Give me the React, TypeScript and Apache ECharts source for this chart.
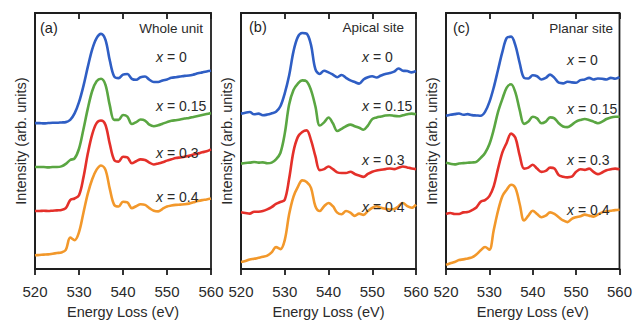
import React, { useEffect, useRef } from "react";
import * as echarts from "echarts";

const energy = [
  520, 521, 522, 523, 524, 525, 526, 527, 528, 529, 530, 531, 532, 533, 534, 535, 536, 537, 538, 539, 540,
  541, 542, 543, 544, 545, 546, 547, 548, 549, 550, 551, 552, 553, 554, 555, 556, 557, 558, 559, 560,
];
const xTicks = [520, 530, 540, 550, 560];
const compositions = ["0", "0.15", "0.3", "0.4"];
const panelTags = ["(a)", "(b)", "(c)"];
const panelTitles = ["Whole unit", "Apical site", "Planar site"];

// Panel (a) Whole unit
const aX0 = [45.5,45.5,45.4,45.5,45.6,45.6,45.7,45.8,46.5,48.5,52.0, 57.0,63.0,68.5,72.0,73.3,71.5,65.0,60.0,59.5,60.6, 60.8,59.3,59.0,59.8,60.0,59.0,58.3,58.3,58.8,59.1, 59.6,59.8,60.0,60.2,60.3,60.6,61.0,61.3,61.6,61.8];
const aX015 = [31.8,31.8,31.8,31.7,31.8,31.8,32.0,32.8,34.0,34.5,37.5, 43.5,50.0,55.5,58.5,59.3,57.5,51.0,46.5,46.5,48.0, 47.5,45.2,45.8,46.6,46.3,45.0,44.5,44.8,45.3,45.8, 46.2,46.4,46.6,46.9,47.1,47.4,47.7,48.0,48.3,48.6];
const aX03 = [18.1,18.1,18.2,18.1,18.2,18.3,18.4,19.0,21.5,22.0,23.0, 28.5,36.0,42.0,45.5,46.3,45.0,39.0,34.0,33.5,35.0, 34.8,33.0,33.6,34.2,34.0,33.2,32.6,32.9,33.3,33.8, 34.2,34.6,34.8,35.0,35.3,35.7,36.0,36.4,36.7,37.3];
const aX04 = [4.3,4.4,4.5,4.6,4.8,5.0,5.2,6.0,9.8,9.0,11.5, 17.5,23.5,28.0,31.0,32.3,31.0,25.0,20.0,19.5,21.0, 20.8,19.0,19.6,20.2,20.0,19.0,18.2,18.0,18.8,19.5, 19.8,20.0,20.1,20.2,20.4,20.8,21.2,21.5,21.7,22.0];

// Panel (b) Apical site
const bX0 = [48.2,48.5,48.7,48.0,48.2,47.7,47.9,48.3,48.8,50.5,54.5, 60.0,67.5,72.0,73.2,73.0,69.5,62.0,60.5,61.5,61.0, 60.3,59.5,60.2,59.3,58.5,58.0,57.5,58.8,59.5,59.8, 59.4,60.0,60.5,60.8,61.2,62.2,61.5,61.4,61.0,61.4];
const bX015 = [32.7,32.9,33.0,33.2,33.0,33.1,32.8,33.0,34.0,36.0,42.0, 51.0,55.5,57.5,58.5,58.2,55.5,50.5,44.5,45.5,47.0, 45.2,42.8,43.5,44.3,44.8,44.3,43.8,43.2,44.5,46.5, 47.0,47.3,47.6,47.7,47.5,47.4,47.7,48.0,48.2,48.0];
const bX03 = [17.6,17.4,17.2,17.8,17.8,18.0,18.5,19.2,20.2,20.8,21.5, 28.0,36.5,41.0,42.5,43.0,40.0,35.0,30.7,31.0,31.8, 31.0,30.0,29.8,29.8,30.2,29.5,29.0,28.6,29.5,30.2, 30.6,30.8,31.0,31.2,31.0,31.4,31.8,31.5,31.2,31.0];
const bX04 = [2.2,2.5,3.0,3.2,3.5,3.8,4.2,5.2,6.8,6.2,9.0, 17.0,22.5,25.5,27.5,27.0,25.2,19.5,18.0,19.5,20.5, 19.5,17.5,17.0,18.0,17.5,16.5,17.2,16.8,18.0,19.0, 19.5,19.0,18.7,18.5,18.6,19.5,20.5,19.5,19.0,20.0];

// Panel (c) Planar site
const cX0 = [47.3,47.6,47.8,48.0,47.6,47.8,47.5,47.4,47.3,48.5,51.5, 56.0,61.5,67.0,71.3,71.7,69.0,63.5,59.0,58.8,59.8, 59.5,58.5,59.0,60.0,59.0,57.5,57.3,57.8,57.6,57.5, 58.3,58.5,59.0,58.5,58.8,58.7,58.5,59.0,58.7,59.2];
const cX015 = [32.8,32.5,32.3,32.6,32.7,32.8,32.9,33.1,34.3,35.8,38.5, 43.0,48.5,52.5,56.0,57.0,54.5,49.0,44.8,45.5,47.0, 46.5,45.0,45.5,46.8,46.5,45.0,44.0,43.8,44.5,45.5, 46.0,46.3,46.0,45.5,45.0,45.5,46.3,46.8,47.0,47.0];
const cX03 = [17.0,17.3,17.0,17.0,17.5,17.6,18.2,19.0,20.8,21.3,22.5, 25.5,31.0,36.0,39.0,41.8,40.5,35.0,31.0,31.3,32.2, 31.0,30.0,30.3,31.3,31.0,29.0,28.5,28.3,28.5,30.0, 30.8,30.6,31.0,30.0,29.3,29.8,30.5,30.8,31.0,30.8];
const cX04 = [1.3,1.8,2.2,2.8,3.0,3.3,3.6,4.5,5.8,6.8,6.0, 12.0,18.0,22.5,24.5,26.0,25.0,20.0,15.0,16.5,18.0, 17.0,16.0,16.5,17.5,17.0,16.0,15.0,14.5,15.5,16.0, 16.3,16.8,16.5,16.2,16.8,17.5,17.8,18.0,18.2,18.3];

const panelData = [
  [aX0, aX015, aX03, aX04],
  [bX0, bX015, bX03, bX04],
  [cX0, cX015, cX03, cX04],
];
const yMax = [79.8, 79.4, 79.0];

const colors = ["#2f5ec4", "#5aa642", "#e4302a", "#f2982b"];
const FONT = "'Liberation Sans', Arial, sans-serif";
const AXIS = "#1e1e1e";

const grids = [
  { left: 35, top: 13, width: 176, height: 266 },
  { left: 241, top: 13, width: 175, height: 264 },
  { left: 446, top: 13, width: 176, height: 263 },
];
const labelLayout = [
  { tagX: 40, titleRight: 203, y0: 28, lx: 156, ly: [57, 106, 153, 197] },
  { tagX: 249, titleRight: 404, y0: 27, lx: 362, ly: [57, 106, 160, 207] },
  { tagX: 453, titleRight: 613, y0: 28, lx: 567, ly: [60, 109, 160, 210] },
];

export default function App() {
  const ref = useRef<HTMLDivElement>(null);
  useEffect(() => {
    if (!ref.current) return;
    const chart = echarts.init(ref.current, undefined, { renderer: "svg" });
    const grid: any[] = [];
    const xAxis: any[] = [];
    const yAxis: any[] = [];
    const series: any[] = [];
    const graphic: any[] = [];
    grids.forEach((g, i) => {
      grid.push({ ...g, show: true, borderColor: AXIS, borderWidth: 1.8, backgroundColor: "transparent" });
      xAxis.push({
        gridIndex: i,
        type: "value",
        min: 520,
        max: 560,
        interval: 10,
        axisLine: { lineStyle: { color: AXIS, width: 1.8 } },
        axisTick: { show: true, inside: false, length: 6, lineStyle: { color: AXIS, width: 1.8 } },
        axisLabel: {
          fontSize: 15,
          color: "#2a2a2a",
          fontFamily: FONT,
          margin: 15,
          formatter: (v: number) => (xTicks.includes(v) ? String(v) : ""),
        },
        splitLine: { show: false },
        name: "Energy Loss (eV)",
        nameLocation: "middle",
        nameGap: 27,
        nameTextStyle: { fontSize: 14.5, color: "#2a2a2a", fontFamily: FONT },
      });
      xAxis.push({
        gridIndex: i,
        type: "value",
        min: 520,
        max: 560,
        interval: 10,
        axisLine: { show: false },
        axisTick: { show: true, inside: true, length: 6, lineStyle: { color: AXIS, width: 1.8 } },
        axisLabel: { show: false },
        splitLine: { show: false },
      });
      yAxis.push({
        gridIndex: i,
        type: "value",
        min: 0,
        max: yMax[i],
        axisLine: { show: true, lineStyle: { color: AXIS, width: 1.8 } },
        axisTick: { show: false },
        axisLabel: { show: false },
        splitLine: { show: false },
        name: "Intensity (arb. units)",
        nameLocation: "middle",
        nameRotate: 90,
        nameGap: 7,
        nameTextStyle: { fontSize: 14.5, color: "#2a2a2a", fontFamily: FONT },
      });
      panelData[i].forEach((vals, k) => {
        series.push({
          type: "line",
          name: `${panelTitles[i]} x = ${compositions[k]}`,
          xAxisIndex: 2 * i,
          yAxisIndex: i,
          data: energy.map((e, j) => [e, vals[j]]),
          showSymbol: false,
          smooth: 0.35,
          lineStyle: { color: colors[k], width: 2.6 },
          itemStyle: { color: colors[k] },
          z: 3,
        });
      });
      const L = labelLayout[i];
      graphic.push({
        type: "text",
        x: L.tagX,
        y: L.y0,
        style: { text: panelTags[i], fill: "#1e1e1e", font: `14.5px ${FONT}`, verticalAlign: "middle", align: "left" },
      });
      graphic.push({
        type: "text",
        x: L.titleRight,
        y: L.y0,
        style: { text: panelTitles[i], fill: "#2a2a2a", font: `13.5px ${FONT}`, verticalAlign: "middle", align: "right" },
      });
      compositions.forEach((c, k) => {
        graphic.push({
          type: "text",
          x: L.lx,
          y: L.ly[k],
          z: 10,
          style: {
            text: `{i|x} = ${c}`,
            fill: "#2a2a2a",
            font: `14px ${FONT}`,
            verticalAlign: "middle",
            align: "left",
            rich: { i: { fontStyle: "italic", fontSize: 14, fontFamily: FONT, fill: "#2a2a2a" } },
          },
        });
      });
    });
    chart.setOption({
      animation: false,
      backgroundColor: "#fff",
      grid,
      xAxis,
      yAxis,
      series,
      graphic,
    });
    return () => chart.dispose();
  }, []);
  return (
    <div
      ref={ref}
      style={{ position: "fixed", left: 0, top: 0, width: 635, height: 324 }}
    />
  );
}
